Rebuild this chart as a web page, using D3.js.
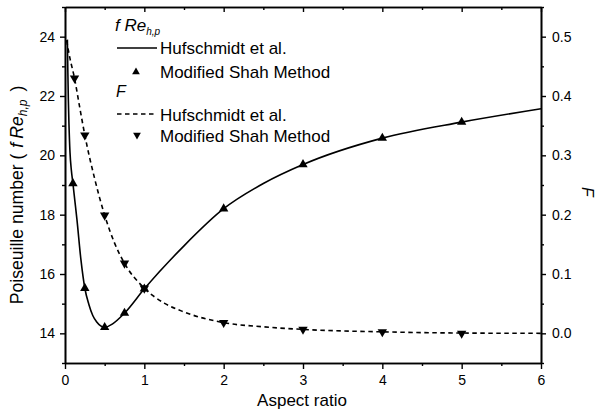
<!DOCTYPE html>
<html><head><meta charset="utf-8">
<script src="https://cdn.jsdelivr.net/npm/d3@7"></script>
<style>
body{margin:0;background:#fff}
svg{display:block}
text{font-family:"Liberation Sans",Arial,sans-serif;fill:#000}
</style>
</head><body>
<svg id="c" width="596" height="412"></svg>
<script>
// ---- data ----
const hufFReX = [0.03,0.036,0.042,0.05,0.063,0.08,0.1,0.125,0.15,0.2,0.25,0.3,0.35,0.4,0.45,0.5,0.6,0.75,1,1.5,2,2.5,3,4,5,6];
const hufFReY = [23.9,22.8,21.9,21.05,20.1,19.5,19.05,18.45,17.85,16.5,15.52,14.98,14.6,14.38,14.25,14.2,14.32,14.68,15.5,16.95,18.2,19.05,19.69,20.58,21.12,21.57];
const shahFReX = [0.1,0.25,0.5,0.75,1,2,3,4,5];
const shahFReY = [19.05,15.52,14.2,14.68,15.5,18.2,19.69,20.58,21.12];
const hufFX = [0.02,0.06,0.12,0.18,0.25,0.375,0.5,0.625,0.75,1,1.25,1.5,2,2.5,3,4,5,6];
const hufFY = [0.494,0.465,0.43,0.385,0.334,0.26,0.199,0.152,0.118,0.076,0.051,0.036,0.018,0.011,0.0066,0.0025,0.0005,0.0];
const shahFX = [0.12,0.25,0.5,0.75,1,2,3,4,5];
const shahFY = [0.43,0.334,0.199,0.118,0.076,0.018,0.0066,0.0025,0.0];
const xTicks = [0,1,2,3,4,5,6];
const xMinor = [0.5,1.5,2.5,3.5,4.5,5.5];
const leftTicks = [14,16,18,20,22,24];
const leftMinor = [13,15,17,19,21,23,25];
const rightTicks = [0,0.1,0.2,0.3,0.4,0.5];
const rightMinor = [-0.05,0.05,0.15,0.25,0.35,0.45,0.55];

// ---- layout ----
const L = 65, R = 541, T = 7, B = 363;
const svg = d3.select("#c");
const x = d3.scaleLinear().domain([0,6]).range([L,R]);
const yL = d3.scaleLinear().domain([13,25]).range([B,T]);
const yR = d3.scaleLinear().domain([-0.05,0.55]).range([B,T]);

function styleAxis(g){
  g.selectAll("path.domain").attr("stroke","#000").attr("stroke-width",1.6);
  g.selectAll(".tick line").attr("stroke","#000").attr("stroke-width",1.4);
  g.selectAll(".tick text").attr("font-size",14).attr("font-family","Liberation Sans, Arial, sans-serif").attr("fill","#000");
}

// bottom
svg.append("g").attr("transform",`translate(0,${B})`)
  .call(d3.axisBottom(x).tickValues(xTicks).tickSize(6).tickSizeOuter(0).tickPadding(6).tickFormat(d3.format("d")))
  .call(styleAxis);
svg.append("g").attr("transform",`translate(0,${B})`)
  .call(d3.axisBottom(x).tickValues(xMinor).tickSize(3).tickSizeOuter(0).tickFormat(""))
  .call(styleAxis);
// top (ticks inward)
svg.append("g").attr("transform",`translate(0,${T})`)
  .call(d3.axisBottom(x).tickValues(xTicks).tickSize(5).tickSizeOuter(0).tickFormat(""))
  .call(styleAxis);
svg.append("g").attr("transform",`translate(0,${T})`)
  .call(d3.axisBottom(x).tickValues(xMinor).tickSize(3).tickSizeOuter(0).tickFormat(""))
  .call(styleAxis);
// left
svg.append("g").attr("transform",`translate(${L},0)`)
  .call(d3.axisLeft(yL).tickValues(leftTicks).tickSize(5).tickSizeOuter(0).tickPadding(5).tickFormat(d3.format("d")))
  .call(styleAxis);
svg.append("g").attr("transform",`translate(${L},0)`)
  .call(d3.axisLeft(yL).tickValues(leftMinor).tickSize(3).tickSizeOuter(0).tickFormat(""))
  .call(styleAxis);
// right
svg.append("g").attr("transform",`translate(${R},0)`)
  .call(d3.axisRight(yR).tickValues(rightTicks).tickSize(5).tickSizeOuter(0).tickPadding(6).tickFormat(d3.format(".1f")))
  .call(styleAxis);
svg.append("g").attr("transform",`translate(${R},0)`)
  .call(d3.axisRight(yR).tickValues(rightMinor).tickSize(3).tickSizeOuter(0).tickFormat(""))
  .call(styleAxis);

// ---- curves ----
const lineL = d3.line().x(d=>x(d[0])).y(d=>yL(d[1])).curve(d3.curveMonotoneX);
const lineR = d3.line().x(d=>x(d[0])).y(d=>yR(d[1])).curve(d3.curveMonotoneX);
svg.append("path").datum(d3.zip(hufFReX,hufFReY)).attr("d",lineL)
  .attr("fill","none").attr("stroke","#000").attr("stroke-width",1.6);
svg.append("path").datum(d3.zip(hufFX,hufFY)).attr("d",lineR)
  .attr("fill","none").attr("stroke","#000").attr("stroke-width",1.6).attr("stroke-dasharray","4.5,3.5");

const triUp = d3.symbol().type(d3.symbolTriangle).size(38);
svg.append("g").selectAll("path").data(d3.zip(shahFReX,shahFReY)).join("path")
  .attr("d",triUp).attr("transform",d=>`translate(${x(d[0])},${yL(d[1])})`).attr("fill","#000");
svg.append("g").selectAll("path").data(d3.zip(shahFX,shahFY)).join("path")
  .attr("d",triUp).attr("transform",d=>`translate(${x(d[0])},${yR(d[1])}) rotate(180)`).attr("fill","#000");

// ---- axis titles ----
svg.append("text").attr("x",302).attr("y",406).attr("text-anchor","middle").attr("font-size",17).text("Aspect ratio");
const yl = svg.append("text").attr("transform","translate(23,195) rotate(-90)").attr("text-anchor","middle").attr("font-size",17.6);
yl.append("tspan").text("Poiseuille number (");
yl.append("tspan").attr("font-style","italic").attr("dx",6).text("f");
yl.append("tspan").attr("font-style","italic").attr("dx",4).text("Re");
yl.append("tspan").attr("font-style","italic").attr("font-size",12).attr("dy",4).text("h,p");
yl.append("tspan").attr("dy",-4).attr("dx",8).text(")");
svg.append("text").attr("transform","translate(582,192) rotate(90)").attr("text-anchor","middle")
  .attr("font-size",16).attr("font-style","italic").text("F");

// ---- legend ----
const lg = svg.append("g");
const t1 = lg.append("text").attr("x",115).attr("y",31).attr("font-family","Liberation Serif, Times New Roman, serif").attr("font-style","italic").attr("font-size",17);
t1.append("tspan").text("f Re");
t1.append("tspan").attr("font-size",10).attr("dy",4).text("h,p");
lg.append("line").attr("x1",117).attr("x2",157).attr("y1",48).attr("y2",48).attr("stroke","#000").attr("stroke-width",1.6);
lg.append("text").attr("x",160).attr("y",54).attr("font-size",17).text("Hufschmidt et al.");
lg.append("path").attr("d",d3.symbol().type(d3.symbolTriangle).size(26)).attr("transform","translate(136,72)").attr("fill","#000");
lg.append("text").attr("x",160).attr("y",78).attr("font-size",17).text("Modified Shah Method");
lg.append("text").attr("x",116).attr("y",97).attr("font-size",16).attr("font-style","italic").text("F");
lg.append("line").attr("x1",117).attr("x2",157).attr("y1",114).attr("y2",114).attr("stroke","#000").attr("stroke-width",1.6).attr("stroke-dasharray","4.5,3.5");
lg.append("text").attr("x",160).attr("y",120.5).attr("font-size",17).text("Hufschmidt et al.");
lg.append("path").attr("d",d3.symbol().type(d3.symbolTriangle).size(26)).attr("transform","translate(137,135) rotate(180)").attr("fill","#000");
lg.append("text").attr("x",160).attr("y",141.5).attr("font-size",17).text("Modified Shah Method");
</script>
</body></html>
